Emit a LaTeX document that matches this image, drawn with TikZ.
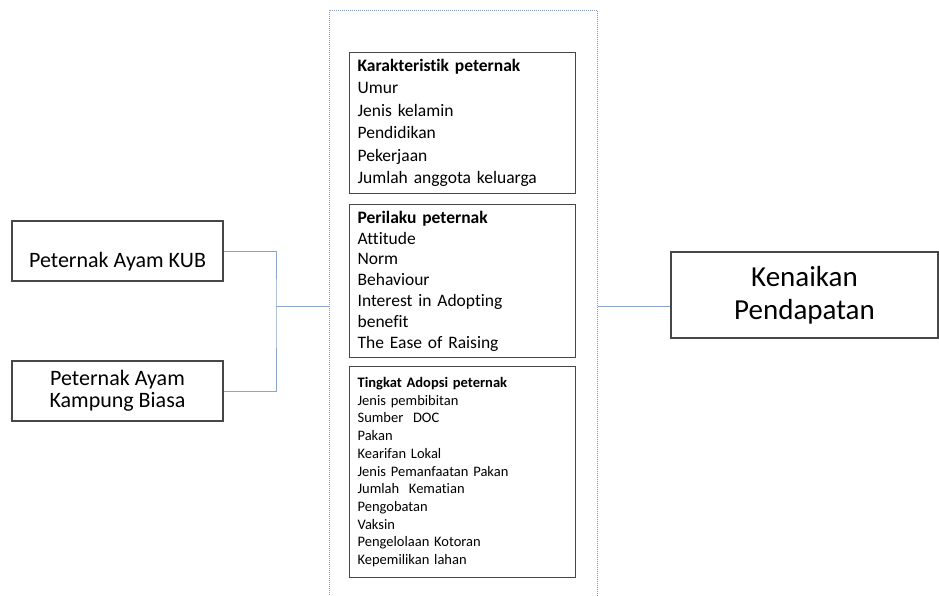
\documentclass[tikz,border=0pt]{standalone}
\usepackage{fontspec}
\setmainfont{Carlito}[Ligatures=NoCommon]
\usepackage{tikz}
\definecolor{linkblue}{HTML}{8AA4CC}
\definecolor{framegray}{HTML}{8E9CB6}
\definecolor{boxgray}{HTML}{474747}
\newcommand{\fs}[2]{\fontsize{#1}{#2}\selectfont}

\begin{document}
\begin{tikzpicture}[x=1pt,y=-1pt,
	box/.style={draw=boxgray,line width=1.2pt,align=center,inner sep=0pt},
	listbox/.style={box,anchor=north west,align=left,text width=210pt,inner xsep=8pt,minimum width=226pt},
	link/.style={draw=linkblue,line width=0.9pt}]
	\useasboundingbox (0,0) rectangle (939,596);
	
	% Outer dotted frame (bottom runs off the page)
	\node[draw=framegray,line width=0.9pt,dash pattern=on 1pt off 1pt,
		minimum width=268pt,minimum height=610pt,anchor=north west] (frame) at (329,10) {};
	
	% Three lists inside the frame
	\node[listbox,minimum height=141pt,font=\fs{17.5}{22.5}] (karakter) at (349,52)
		{\textbf{Karakteristik peternak}\\Umur\\Jenis kelamin\\Pendidikan\\Pekerjaan\\Jumlah anggota keluarga};
	\node[listbox,minimum height=153pt,font=\fs{17.5}{20.8}] (perilaku) at (349,204)
		{\textbf{Perilaku peternak}\\Attitude\\Norm\\Behaviour\\Interest in Adopting\\benefit\\The Ease of Raising};
	\node[listbox,minimum height=211pt,font=\fs{14.5}{17.7}] (adopsi) at (349,366)
		{\textbf{Tingkat Adopsi peternak}\\Jenis pembibitan\\Sumber\ \ DOC\\Pakan\\Kearifan Lokal\\Jenis Pemanfaatan Pakan\\Jumlah\ \ Kematian\\Pengobatan\\Vaksin\\Pengelolaan Kotoran\\Kepemilikan lahan};
	
	% Left boxes
	\node[box,minimum width=211pt,minimum height=60pt,font=\fs{22}{22}] (kub) at (117.5,251)
		{\strut\\Peternak Ayam KUB};
	\node[box,minimum width=211pt,minimum height=60pt,font=\fs{22}{22}] (biasa) at (117.5,391)
		{Peternak Ayam\\Kampung Biasa};
	
	% Right box
	\node[box,minimum width=267pt,minimum height=86pt,font=\fs{29}{33}] (naik) at (804.5,295)
		{Kenaikan\\Pendapatan};
	
	% Connectors
	\coordinate (hub) at (276,306);
	\draw[link] (kub.east) -| (hub) |- (biasa.east);
	\draw[link] (hub) -- (hub -| frame.west);
	\draw[link] (hub -| frame.east) -- (hub -| naik.west);
\end{tikzpicture}
\end{document}
